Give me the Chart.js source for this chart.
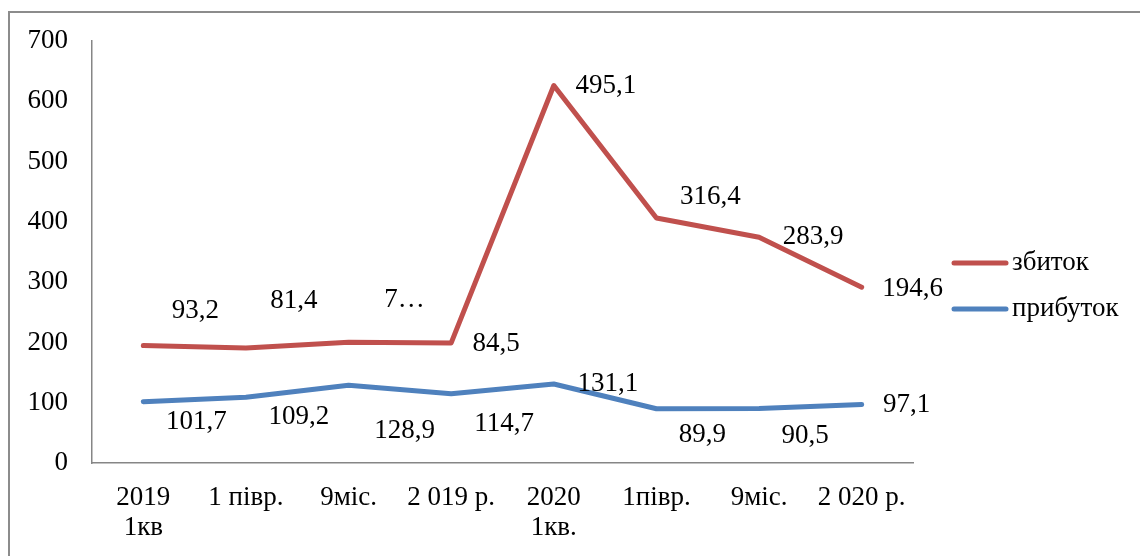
<!DOCTYPE html>
<html>
<head>
<meta charset="utf-8">
<script src="https://cdn.jsdelivr.net/npm/chart.js@4.4.1/dist/chart.umd.min.js"></script>
<style>
  html, body { margin: 0; padding: 0; background: #ffffff; }
  #wrap { width: 1140px; height: 556px; }
</style>
</head>
<body>
<div id="wrap"><canvas id="c" width="1140" height="556"></canvas></div>
<script>
// ---- data ----
const categories = [["2019", "1кв"], "1 півр.", "9міс.", "2 019 р.", ["2020", "1кв."], "1півр.", "9міс.", "2 020 р."];
const profitName = "прибуток";
const lossName = "збиток";
const profitValues = [101.7, 109.2, 128.9, 114.7, 131.1, 89.9, 90.5, 97.1];
const lossValues = [93.2, 81.4, 71.5, 84.5, 495.1, 316.4, 283.9, 194.6];
const lossTruncated = [false, false, true, false, false, false, false, false];
const yTicks = [0, 100, 200, 300, 400, 500, 600, 700];

// ---- style / placement (not data) ----
const FONT = '"Liberation Serif", "Times New Roman", serif';
const FS = 27;
const RED = '#C0504D';
const BLUE = '#4F81BD';
const lossLabelOffsets = [[52,-35],[48,-47],[56,-42],[45,1],[52,0],[54,-21],[54,0],[51,2]];
const profitLabelOffsets = [[53,20],[53,20],[56,46],[53,30],[54,0],[46,26],[46,27],[45,0]];

function fmt(v) { return v.toFixed(1).replace('.', ','); }

const framePlugin = {
  id: 'frame',
  beforeDraw(chart) {
    const ctx = chart.ctx;
    ctx.save();
    ctx.fillStyle = '#ffffff';
    ctx.fillRect(0, 0, chart.width, chart.height);
    ctx.strokeStyle = '#8c8c8c';
    ctx.lineWidth = 2;
    ctx.strokeRect(9, 12, 1200, 600);
    ctx.restore();
  }
};

const labelPlugin = {
  id: 'valueLabels',
  afterDatasetsDraw(chart) {
    const ctx = chart.ctx;
    ctx.save();
    ctx.font = FS + 'px ' + FONT;
    ctx.fillStyle = '#000000';
    ctx.textAlign = 'center';
    ctx.textBaseline = 'middle';
    chart.data.datasets.forEach((ds, di) => {
      const meta = chart.getDatasetMeta(di);
      const offs = ds.labelOffsets;
      meta.data.forEach((pt, i) => {
        let txt = fmt(ds.data[i]);
        if (ds.truncated && ds.truncated[i]) txt = txt.charAt(0) + '…';
        ctx.fillText(txt, pt.x + offs[i][0], pt.y + offs[i][1]);
      });
    });
    ctx.restore();
  }
};

const legendPlugin = {
  id: 'customLegend',
  afterDraw(chart) {
    const ctx = chart.ctx;
    const items = [
      { name: lossName, color: RED, y: 263 },
      { name: profitName, color: BLUE, y: 309 }
    ];
    ctx.save();
    ctx.font = FS + 'px ' + FONT;
    ctx.textBaseline = 'middle';
    ctx.textAlign = 'left';
    items.forEach(it => {
      ctx.strokeStyle = it.color;
      ctx.lineWidth = 5;
      ctx.lineCap = 'round';
      ctx.beginPath();
      ctx.moveTo(954, it.y);
      ctx.lineTo(1006, it.y);
      ctx.stroke();
      ctx.fillStyle = '#000000';
      ctx.fillText(it.name, 1012, it.y);
    });
    ctx.restore();
  }
};

new Chart(document.getElementById('c'), {
  type: 'line',
  data: {
    labels: categories,
    datasets: [
      {
        label: profitName,
        data: profitValues,
        borderColor: BLUE,
        backgroundColor: BLUE,
        borderWidth: 5,
        borderCapStyle: 'round',
        borderJoinStyle: 'round',
        pointRadius: 0,
        tension: 0,
        fill: false,
        labelOffsets: profitLabelOffsets
      },
      {
        label: lossName,
        data: lossValues,
        borderColor: RED,
        backgroundColor: RED,
        borderWidth: 5,
        borderCapStyle: 'round',
        borderJoinStyle: 'round',
        pointRadius: 0,
        tension: 0,
        fill: false,
        labelOffsets: lossLabelOffsets,
        truncated: lossTruncated
      }
    ]
  },
  options: {
    responsive: false,
    animation: false,
    devicePixelRatio: 1,
    layout: { padding: { left: 0, top: 41, right: 227, bottom: 0 } },
    plugins: {
      legend: { display: false },
      tooltip: { enabled: false }
    },
    scales: {
      x: {
        type: 'category',
        offset: true,
        grid: { display: false, drawTicks: false },
        border: { display: true, color: '#868686', width: 1.5 },
        ticks: {
          color: '#000000',
          font: { family: FONT, size: FS, lineHeight: 1.12 },
          padding: 20,
          maxRotation: 0,
          minRotation: 0,
          autoSkip: false
        },
        afterFit(scale) { scale.height = 93; }
      },
      y: {
        stacked: true,
        min: 0,
        max: 700,
        afterBuildTicks(scale) { scale.ticks = yTicks.map(v => ({ value: v })); },
        grid: { display: false, drawTicks: false },
        border: { display: true, color: '#868686', width: 1.5 },
        ticks: {
          color: '#000000',
          font: { family: FONT, size: FS },
          padding: 24,
          callback: (v) => String(v)
        },
        afterFit(scale) { scale.width = 92; }
      }
    }
  },
  plugins: [framePlugin, labelPlugin, legendPlugin]
});
</script>
</body>
</html>
